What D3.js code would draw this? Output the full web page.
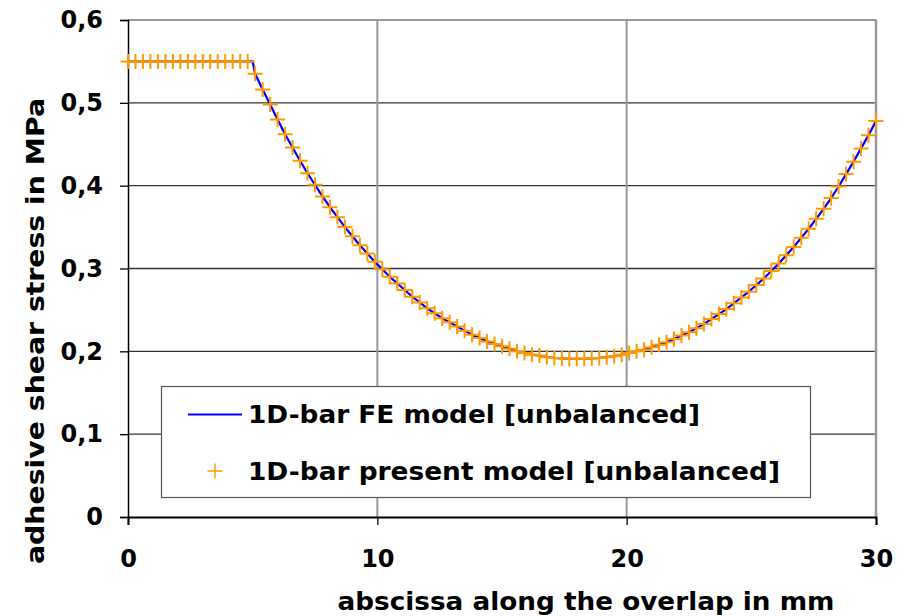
<!DOCTYPE html>
<html>
<head>
<meta charset="utf-8">
<script src="https://cdn.jsdelivr.net/npm/d3@7"></script>
<style>
  html, body { margin: 0; padding: 0; background: #fff; }
  svg { display: block; }
  text { font-family: "DejaVu Sans", Verdana, sans-serif; font-weight: bold; fill: #000; }
</style>
</head>
<body>
<svg id="chart" width="904" height="616"></svg>
<script>
// ---------- data ----------
const xTicks = [0, 10, 20, 30];
const yTicks = [0, 0.1, 0.2, 0.3, 0.4, 0.5, 0.6];
const xLabel = "abscissa along the overlap in mm";
const yLabel = "adhesive shear stress in MPa";
const seriesNames = ["1D-bar FE model [unbalanced]", "1D-bar present model [unbalanced]"];

// present model: points every 0.3 mm from 0 to 30
const presentX = d3.range(0, 101).map(i => Math.round(i * 3) / 10);
const presentY = [
  0.550, 0.550, 0.550, 0.550, 0.550, 0.550, 0.550, 0.550, 0.550, 0.550, // 0 - 2.7
  0.550, 0.550, 0.550, 0.550, 0.550, 0.550, 0.550,                      // 3.0 - 4.8
  0.535, 0.516, 0.498, 0.480, 0.462, 0.446, 0.430, 0.415, 0.401, 0.387, // 5.1 - 7.8
  0.374, 0.362, 0.350, 0.339, 0.328, 0.318, 0.308, 0.299, 0.290, 0.282, // 8.1 - 10.8
  0.274, 0.266, 0.259, 0.252, 0.246, 0.240, 0.235, 0.230, 0.225, 0.220, // 11.1 - 13.8
  0.216, 0.212, 0.209, 0.206, 0.203, 0.200, 0.198, 0.196, 0.195, 0.193, // 14.1 - 16.8
  0.192, 0.1915, 0.191, 0.191, 0.191, 0.1915, 0.192, 0.193, 0.194, 0.196, // 17.1 - 19.8
  0.198, 0.200, 0.202, 0.205, 0.208, 0.211, 0.215, 0.219, 0.223, 0.228, // 20.1 - 22.8
  0.233, 0.239, 0.245, 0.251, 0.258, 0.265, 0.272, 0.280, 0.288, 0.297, // 23.1 - 25.8
  0.306, 0.316, 0.326, 0.337, 0.348, 0.360, 0.372, 0.385, 0.399, 0.414, // 26.1 - 28.8
  0.429, 0.445, 0.461, 0.478                                              // 29.1 - 30.0
];

// FE model line
const feX = [0, 5.0, 5.1, 5.4, 5.7, 6.0, 6.3, 6.6, 6.9, 7.2, 7.5, 7.8, 8.1, 8.4, 8.7, 9.0, 9.3, 9.6, 9.9,
  10.2, 10.5, 10.8, 11.1, 11.4, 11.7, 12.0, 12.3, 12.6, 12.9, 13.2, 13.5, 13.8, 14.1, 14.4, 14.7,
  15.0, 15.3, 15.6, 15.9, 16.2, 16.5, 16.8, 17.1, 17.4, 17.7, 18.0, 18.3, 18.6, 18.9, 19.2, 19.5,
  19.8, 20.1, 20.4, 20.7, 21.0, 21.3, 21.6, 21.9, 22.2, 22.5, 22.8, 23.1, 23.4, 23.7, 24.0, 24.3,
  24.6, 24.9, 25.2, 25.5, 25.8, 26.1, 26.4, 26.7, 27.0, 27.3, 27.6, 27.9, 28.2, 28.5, 28.8, 29.1,
  29.4, 29.7, 30.0];
const feY = [0.550, 0.550, 0.535, 0.516, 0.498, 0.480, 0.462, 0.446, 0.430, 0.415, 0.401, 0.387,
  0.374, 0.362, 0.350, 0.339, 0.328, 0.318, 0.308, 0.299, 0.290, 0.282, 0.274, 0.266, 0.259, 0.252,
  0.246, 0.240, 0.235, 0.230, 0.225, 0.220, 0.216, 0.212, 0.209, 0.206, 0.203, 0.200, 0.198, 0.196,
  0.195, 0.193, 0.192, 0.1915, 0.191, 0.191, 0.191, 0.1915, 0.192, 0.193, 0.194, 0.196, 0.198, 0.200,
  0.202, 0.205, 0.208, 0.211, 0.215, 0.219, 0.223, 0.228, 0.233, 0.239, 0.245, 0.251, 0.258, 0.265,
  0.272, 0.280, 0.288, 0.297, 0.306, 0.316, 0.326, 0.337, 0.348, 0.360, 0.372, 0.385, 0.399, 0.414,
  0.429, 0.445, 0.461, 0.478];

// ---------- layout ----------
const svg = d3.select("#chart");
const L = 128, R = 876, T = 20, B = 517;
const x = d3.scaleLinear().domain([0, 30]).range([L, R]);
const y = d3.scaleLinear().domain([0, 0.6]).range([B, T]);
const fmt = d => d === 0 ? "0" : d3.format(".1f")(d).replace(".", ",");

// horizontal grid lines
svg.append("g").selectAll("line").data(yTicks.filter(d => d > 0 && d < 0.6)).join("line")
  .attr("x1", L).attr("x2", R).attr("y1", d => y(d)).attr("y2", d => y(d))
  .attr("stroke", "#333").attr("stroke-width", 1.3);
// vertical grid lines
svg.append("g").selectAll("line").data(xTicks.filter(d => d > 0 && d < 30)).join("line")
  .attr("x1", d => x(d)).attr("x2", d => x(d)).attr("y1", T).attr("y2", B)
  .attr("stroke", "#999").attr("stroke-width", 2);
// top & right border
svg.append("line").attr("x1", L).attr("x2", R).attr("y1", y(0.6)).attr("y2", y(0.6))
  .attr("stroke", "#999").attr("stroke-width", 2.2);
svg.append("line").attr("x1", x(30)).attr("x2", x(30)).attr("y1", T).attr("y2", B)
  .attr("stroke", "#999").attr("stroke-width", 2.5);

// axes
const yAxis = d3.axisLeft(y).tickValues(yTicks).tickFormat(fmt).tickSize(8).tickPadding(17);
const gy = svg.append("g").attr("transform", `translate(${L},0)`).call(yAxis);
gy.select(".domain").attr("stroke", "#000").attr("stroke-width", 1.5);
gy.selectAll(".tick line").attr("stroke", "#000").attr("stroke-width", 1.3);
gy.selectAll("text").style("font-size", "24px").style("font-family", "DejaVu Sans").style("font-weight", "bold")
  .attr("fill", "#000");

const xAxis = d3.axisBottom(x).tickValues(xTicks).tickFormat(d3.format("d")).tickSize(8).tickPadding(25);
const gx = svg.append("g").attr("transform", `translate(0,${B})`).call(xAxis);
gx.select(".domain").attr("stroke", "#000").attr("stroke-width", 2);
gx.selectAll(".tick line").attr("stroke", "#000").attr("stroke-width", 1.3);
gx.selectAll("text").style("font-size", "24px").style("font-family", "DejaVu Sans").style("font-weight", "bold")
  .attr("fill", "#000");

// axis titles
svg.append("text").attr("x", 586).attr("y", 610).attr("text-anchor", "middle")
  .attr("textLength", 497).attr("lengthAdjust", "spacingAndGlyphs")
  .style("font-size", "25px").text(xLabel);
svg.append("text").attr("transform", `translate(44,331) rotate(-90)`).attr("text-anchor", "middle")
  .attr("textLength", 466).attr("lengthAdjust", "spacingAndGlyphs")
  .style("font-size", "25px").text(yLabel);

// FE line
const line = d3.line().x(d => x(d[0])).y(d => y(d[1]));
svg.append("path").datum(feX.map((v, i) => [v, feY[i]]))
  .attr("d", line).attr("fill", "none").attr("stroke", "#0000ff").attr("stroke-width", 2.2);

// present model markers
const pts = presentX.map((v, i) => [v, presentY[i]]);
const plus = (cx, cy, s) => `M${cx - s},${cy}H${cx + s}M${cx},${cy - s}V${cy + s}`;
svg.append("g").selectAll("path").data(pts).join("path")
  .attr("d", d => plus(x(d[0]), y(d[1]), 7.5))
  .attr("fill", "none").attr("stroke", "#ff9900").attr("stroke-width", 2);

// legend
const lg = svg.append("g");
lg.append("rect").attr("x", 161.5).attr("y", 386.5).attr("width", 649).attr("height", 111)
  .attr("fill", "#fff").attr("stroke", "#555").attr("stroke-width", 1.2);
lg.append("line").attr("x1", 188).attr("x2", 242).attr("y1", 414.5).attr("y2", 414.5)
  .attr("stroke", "#0000ff").attr("stroke-width", 2.2);
lg.append("path").attr("d", plus(215, 471, 7.5)).attr("stroke", "#ff9900").attr("stroke-width", 1.4).attr("fill", "none");
lg.append("text").attr("x", 248).attr("y", 423).attr("textLength", 452).attr("lengthAdjust", "spacingAndGlyphs")
  .style("font-size", "25px").text(seriesNames[0]);
lg.append("text").attr("x", 248).attr("y", 480).attr("textLength", 532).attr("lengthAdjust", "spacingAndGlyphs")
  .style("font-size", "25px").text(seriesNames[1]);
</script>
</body>
</html>
